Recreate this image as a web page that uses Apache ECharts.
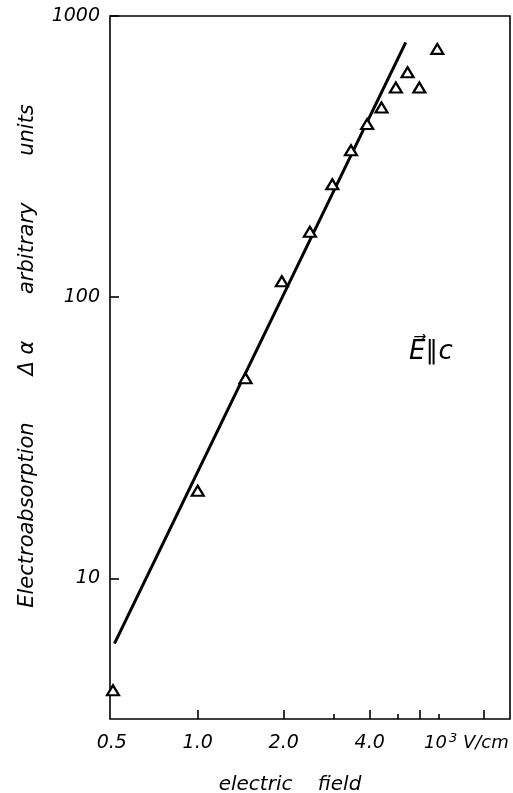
<!DOCTYPE html>
<html><head><meta charset="utf-8">
<script src="https://cdn.jsdelivr.net/npm/echarts@6/dist/echarts.min.js"></script>
<style>html,body{margin:0;padding:0;background:#fff}#c{width:513px;height:793px}</style>
</head><body><div id="c"></div>
<script>
// measured data (10^3 V/cm, arbitrary units)
const fieldE = [0.505, 1.0, 1.47, 1.97, 2.47, 2.96, 3.44, 3.92, 4.4, 4.94, 5.43, 5.97, 6.9];
const absorption = [4.0, 20.5, 51.5, 114, 171, 252, 333, 413, 473, 557, 631, 557, 764];
// fitted straight line (log-log)
const fitE = [0.511, 5.35];
const fitAbs = [5.86, 806];
// axis ticks and labels
const xLabelValues = [0.5, 1, 2, 4];
const xLabelTexts = ['0.5', '1.0', '2.0', '4.0'];
const xMajorTicks = [1, 2, 4, 6, 10];
const xMinorTicks = [3, 5, 7];
const yTickValues = [10, 100, 1000];
const yLabelTexts = ['10', '100', '1000'];

const FONT = 'DejaVu Sans';
const chart = echarts.init(document.getElementById('c'), null, {renderer: 'canvas'});
const xBase = {
  type: 'log', logBase: 10, min: 0.493, max: 12.4,
  position: 'bottom', splitLine: {show: false},
  axisLine: {show: false}
};
chart.setOption({
  animation: false,
  backgroundColor: '#fff',
  grid: {left: 110, top: 16, right: 3, bottom: 74, outerBoundsMode: 'none', containLabel: false,
    show: true, borderColor: '#000', borderWidth: 1.6, backgroundColor: 'transparent'},
  xAxis: [
    Object.assign({}, xBase, {
      name: 'electric    field', nameLocation: 'middle', nameGap: 56,
      nameTextStyle: {fontFamily: FONT, fontStyle: 'italic', fontSize: 20, color: '#000', padding: [0, 40, 0, 0]},
      axisTick: {show: true, inside: true, length: 9, lineStyle: {color: '#000', width: 1.6}, customValues: xMajorTicks},
      axisLabel: {show: true, customValues: xLabelValues, margin: 15, color: '#000', fontFamily: FONT, fontStyle: 'italic', fontSize: 19,
        formatter: v => { const i = xLabelValues.findIndex(t => Math.abs(t - v) < 1e-6); return i >= 0 ? xLabelTexts[i] : ''; }}
    }),
    Object.assign({}, xBase, {
      axisTick: {show: true, inside: true, length: 5, lineStyle: {color: '#000', width: 1.6}, customValues: xMinorTicks},
      axisLabel: {show: false}
    })
  ],
  yAxis: {
    type: 'log', logBase: 10, min: 3.162, max: 1000,
    splitLine: {show: false}, axisLine: {show: false},
    name: 'Electroabsorption       Δ α       arbitrary       units', nameLocation: 'middle', nameGap: 72,
    nameTextStyle: {fontFamily: FONT, fontStyle: 'italic', fontSize: 21, color: '#000', padding: [0, 0, 0, 23]},
    axisTick: {show: true, inside: true, length: 9, lineStyle: {color: '#000', width: 1.6}, customValues: yTickValues},
    axisLabel: {show: true, customValues: yTickValues, margin: 10, color: '#000', fontFamily: FONT, fontStyle: 'italic', fontSize: 19,
      formatter: v => { const i = yTickValues.findIndex(t => Math.abs(t - v) / t < 1e-6); return i >= 0 ? yLabelTexts[i] : ''; }}
  },
  series: [
    {type: 'line', data: fitE.map((x, i) => [x, fitAbs[i]]), symbol: 'none', lineStyle: {color: '#000', width: 3}, z: 2, silent: true},
    {type: 'scatter', data: fieldE.map((x, i) => [x, absorption[i]]), symbol: 'triangle', symbolSize: [12, 10],
      itemStyle: {color: '#fff', borderColor: '#000', borderWidth: 2.2, opacity: 1}, z: 3}
  ],
  graphic: [
    {type: 'text', left: 424, top: 732, style: {text: '10{s|3} V/cm', font: 'italic 18px "DejaVu Sans"', fill: '#000',
      rich: {s: {fontSize: 13, fontStyle: 'italic', fontFamily: FONT, verticalAlign: 'top', padding: [0, 0, 10, 2]}}}},
    {type: 'text', left: 409, top: 339, style: {text: 'E\u20D7\u2225c', font: 'italic 26px "DejaVu Sans"', fill: '#000'}}
  ]
});
</script></body></html>
